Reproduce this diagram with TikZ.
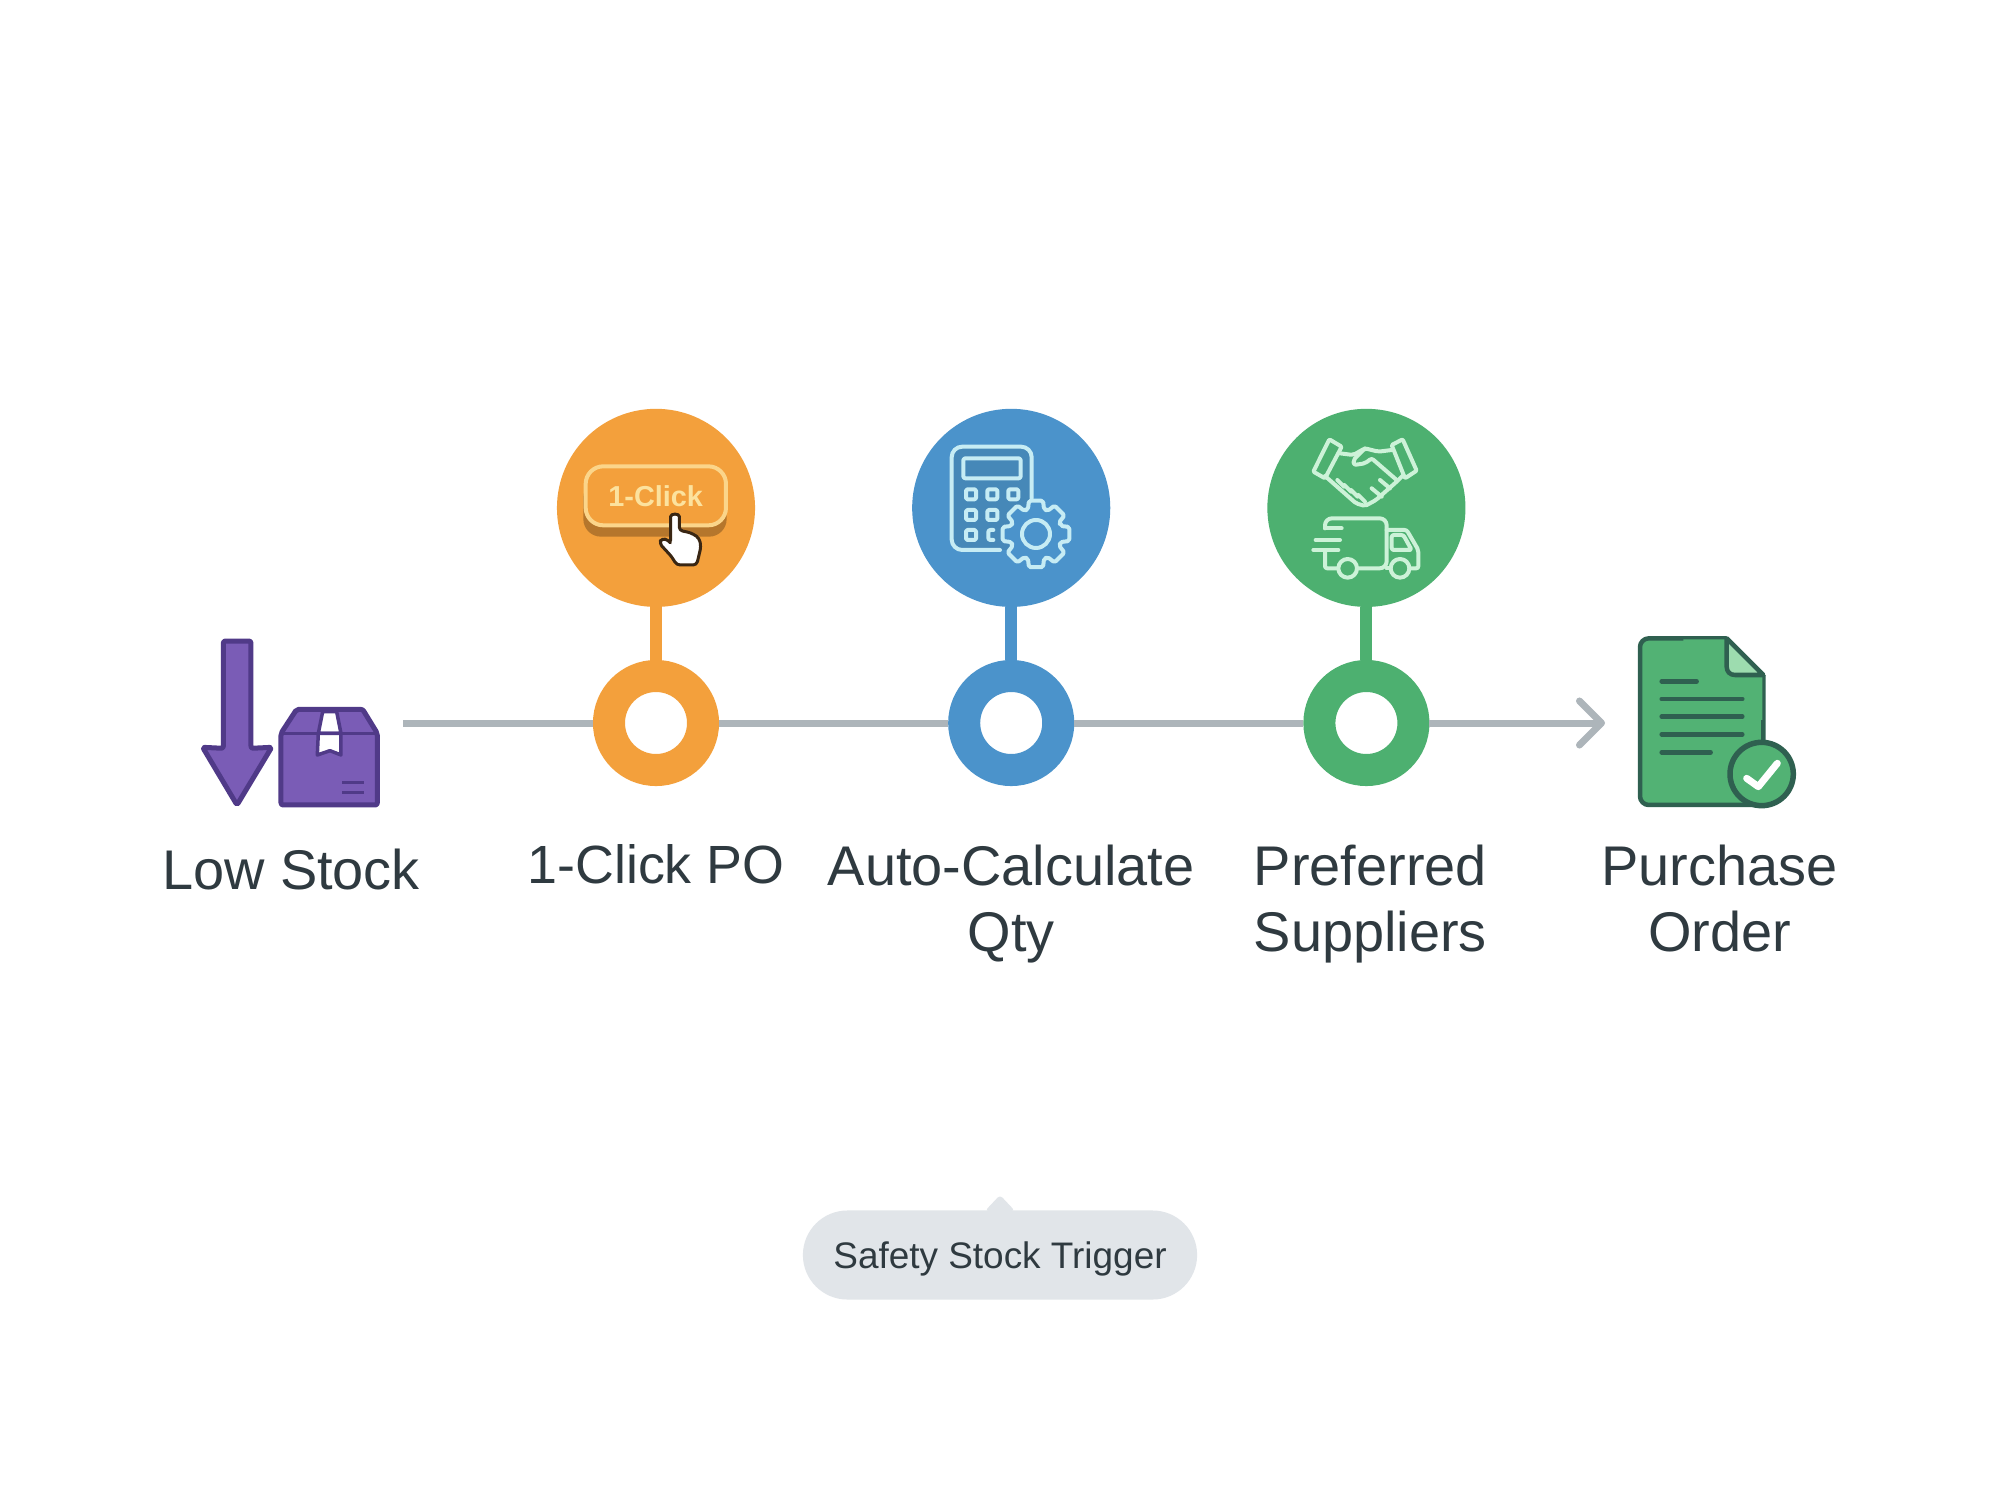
\documentclass[tikz,border=0pt]{standalone}
\usepackage{fontspec}
\setmainfont{Liberation Sans}
\usepackage{xcolor}
\usetikzlibrary{arrows.meta,positioning,shapes.misc}
\definecolor{clickorange}{HTML}{F3A03C}
\definecolor{clickshadow}{HTML}{B5762C}
\definecolor{clickrim}{HTML}{FBD58A}
\definecolor{clicktint}{HTML}{FCE29E}
\definecolor{calcblue}{HTML}{4B93CB}
\definecolor{calcdark}{HTML}{4688B8}
\definecolor{calcpale}{HTML}{C6ECF4}
\definecolor{supplygreen}{HTML}{4DB070}
\definecolor{supplypale}{HTML}{CDF2D8}
\definecolor{docgreen}{HTML}{52B274}
\definecolor{foldgreen}{HTML}{9DDCAF}
\definecolor{stockpurple}{HTML}{7A5CB6}
\definecolor{stockedge}{HTML}{503A88}
\definecolor{docedge}{HTML}{2F6050}
\definecolor{trackgrey}{HTML}{ADB5BA}
\definecolor{labeltext}{HTML}{2F3A40}
\definecolor{pillgrey}{HTML}{E1E5E9}
\begin{document}
\begin{tikzpicture}[
    x=.01cm,y=-.01cm,
    ring/.style={circle,draw=#1,fill=white,line width=.32cm,minimum size=.94cm,inner sep=0pt},
    badge/.style={circle,fill=#1,minimum size=1.98cm,inner sep=0pt,outer sep=0pt},
    stem/.style={line width=.12cm,draw=#1},
    track/.style={line width=.07cm,draw=trackgrey},
    steplabel/.style={align=center,text=labeltext,font=\fontsize{15.9}{18.8}\selectfont,inner sep=0pt},
    purpleicon/.style={fill=stockpurple,draw=stockedge,line width=.05cm,line join=round,rounded corners=.6pt},
    docicon/.style={draw=docedge,line width=.045cm,line join=round},
    docline/.style={draw=docedge,line width=.045cm,line cap=round},
    calcline/.style={draw=#1,line width=.04cm,rounded corners=.6pt,line join=round,line cap=round}
  ]
    \useasboundingbox[fill=white] (0,0) rectangle (2000,1500);

    \coordinate (trackstart) at (403,723);
    \coordinate (trackend) at (1605,723);
    \node[ring=clickorange] (ringclick) at (656,723) {};
    \node[ring=calcblue,right=2.29cm of ringclick] (ringcalc) {};
    \node[ring=supplygreen,right=2.29cm of ringcalc] (ringsupply) {};
    \node[badge=clickorange,above=.53cm of ringclick] (badgeclick) {};
    \node[badge=calcblue,above=.53cm of ringcalc] (badgecalc) {};
    \node[badge=supplygreen,above=.53cm of ringsupply] (badgesupply) {};
    \draw[stem=clickorange] (badgeclick) -- (ringclick);
    \draw[stem=calcblue] (badgecalc) -- (ringcalc);
    \draw[stem=supplygreen] (badgesupply) -- (ringsupply);
    \draw[track] (trackstart) -- (ringclick);
    \draw[track] (ringclick) -- (ringcalc);
    \draw[track] (ringcalc) -- (ringsupply);
    \draw[track,-{Straight Barb[length=2.2mm,width=4.4mm,round]}] (ringsupply) -- (trackend);

    \node[steplabel] (lowlabel) at (291,870) {Low Stock};
    \node[steplabel,below=.58cm of ringclick,font=\fontsize{15.3}{18.8}\selectfont] (clicklabel) {1-Click PO};
    \node[steplabel,below=.58cm of ringcalc] (calclabel) {Auto-Calculate\\Qty};
    \node[steplabel,below=.58cm of ringsupply,xshift=.04cm] (supplylabel) {Preferred\\Suppliers};
    \node[steplabel,right=1.13cm of supplylabel.north east,anchor=north west] (orderlabel) {Purchase\\Order};

    \fill[pillgrey,rounded corners=1pt] (985,1211) -- (1000,1195) -- (1015,1211) -- cycle;
    \node[rounded rectangle,fill=pillgrey,minimum width=3.94cm,minimum height=.89cm,inner sep=0pt,text depth=0pt,
      text=labeltext,font=\fontsize{10.5}{12}\selectfont] (triggerpill) at (1000,1255) {Safety Stock Trigger};

    % low stock
    \begin{scope}[shift={(180,620)},scale=.3333]
      \draw[purpleicon] (130,63) -- (213,63) -- (213,385) -- (275,382) -- (171,555) -- (68,382) -- (130,385) -- cycle;
      \draw[purpleicon] (303,340) -- (350,268) -- (548,268) -- (592,340) -- (592,555) -- (303,555) -- cycle;
      \draw[draw=stockedge,line width=.035cm] (303,340) -- (592,340);
      \draw[fill=white,draw=stockedge,line width=.035cm,line join=round] (428,275) -- (470,275) -- (483,340) -- (415,340) -- cycle;
      \draw[fill=white,draw=stockedge,line width=.035cm,line join=round] (415,340) -- (483,340) -- (483,405) -- (450,392) -- (412,405) -- cycle;
      \draw[draw=stockedge,line width=.025cm] (487,487) -- (553,487);
      \draw[draw=stockedge,line width=.025cm] (487,518) -- (553,518);
    \end{scope}

    % button and hand
    \begin{scope}[shift={(540,400)},scale=.3333]
      \fill[clickshadow,rounded corners=5pt] (130,240) rectangle (560,410);
      \draw[fill=clickorange,draw=clickrim,line width=.04cm,rounded corners=5pt] (137,199) rectangle (558,376);
      \node[text=clicktint,font=\bfseries\fontsize{8.2}{10}\selectfont,inner sep=0pt] (clicktext) at (347,290) {1-Click};
      \draw[fill=white,draw=black!70!brown,line width=.03cm,line join=round,rounded corners=1pt]
        (392,430) -- (392,360) .. controls (392,340) and (418,340) .. (418,360) -- (418,392)
        -- (440,395) -- (460,402) -- (478,415) -- (483,440) -- (470,495) -- (410,495)
        -- (395,470) -- (358,430) -- (365,415) -- (385,420) -- cycle;
    \end{scope}

    % calculator and gear
    \begin{scope}[shift={(900,400)},scale=.3333]
      \fill[calcdark,rounded corners=2pt] (155,140) rectangle (395,450);
      \draw[calcline=calcpale,rounded corners=3pt] (300,450) -- (155,450) -- (155,140) -- (395,140) -- (395,295);
      \draw[calcline=calcpale] (190,175) rectangle (362,235);
      \foreach \bx/\by in {213/283,277/283,340/283,213/345,277/345,213/405}
        \draw[calcline=calcpale,rounded corners=.4pt] (\bx-15,\by-15) rectangle (\bx+15,\by+15);
      \draw[calcline=calcpale] (280,390) -- (265,390) -- (265,420) -- (280,420);
      \begin{scope}[shift={(408,402)}]
        \draw[calcline=calcpale,fill=calcblue,rounded corners=.5pt]
          (-18:78)
          \foreach \a in {0,45,...,315} {
            -- (\a-12:102) -- (\a+12:102) -- (\a+18:78) -- (\a+27:78)
          } -- cycle;
        \draw[calcline=calcpale] (0,0) circle[radius=42];
      \end{scope}
    \end{scope}

    % handshake and truck
    \begin{scope}[shift={(1250,400)},scale=.3333]
      \draw[calcline=supplypale,rounded corners=.3pt] (238,118) -- (275,140) -- (225,235) -- (190,215) -- cycle;
      \draw[calcline=supplypale,rounded corners=.3pt] (458,118) -- (500,212) -- (465,235) -- (425,135) -- cycle;
      \draw[calcline=supplypale] (270,160) -- (310,165) -- (345,145) -- (385,155) -- (425,150);
      \draw[calcline=supplypale] (345,145) -- (310,180) -- (312,195) -- (345,190) -- (365,175) -- (440,240);
      \draw[calcline=supplypale] (460,225) -- (440,245) -- (378,300) -- (345,318) -- (318,310) -- (250,250) -- (225,228);
      \foreach \fx/\fy in {262/240,283/255,303/270,325/285}
        \draw[calcline=supplypale] (\fx,\fy) -- (\fx+20,\fy+20);
      \draw[calcline=supplypale] (365,265) -- (395,290);
      \draw[calcline=supplypale] (390,240) -- (420,265);
      \draw[calcline=supplypale,rounded corners=2pt] (225,385) -- (225,355) -- (410,355) -- (410,505) -- (325,505);
      \draw[calcline=supplypale] (225,385) -- (275,385);
      \draw[calcline=supplypale] (197,420) -- (270,420);
      \draw[calcline=supplypale] (190,450) -- (265,450);
      \draw[calcline=supplypale] (225,455) -- (225,505) -- (262,505);
      \draw[calcline=supplypale] (293,505) circle[radius=28];
      \draw[calcline=supplypale] (450,505) circle[radius=28];
      \draw[calcline=supplypale] (410,505) -- (420,505);
      \draw[calcline=supplypale] (410,390) -- (470,390) -- (505,450) -- (505,505) -- (480,505);
      \draw[calcline=supplypale] (425,405) -- (460,405) -- (485,450) -- (425,450) -- cycle;
    \end{scope}

    % purchase order document
    \begin{scope}[shift={(1550,620)},scale=.3333]
      \draw[docicon,fill=docgreen,rounded corners=2.5pt] (530,55) -- (270,55) -- (270,555) -- (640,555) -- (640,165);
      \fill[docgreen] (530,58) -- (637,165) -- (637,300) -- (400,300) -- (400,58) -- cycle;
      \draw[docicon,fill=foldgreen] (530,55) -- (640,165) -- (555,165) .. controls (540,165) and (530,155) .. (530,140) -- cycle;
      \draw[docline] (335,184) -- (440,184);
      \draw[docline] (335,237) -- (577,237);
      \draw[docline] (335,290) -- (577,290);
      \draw[docline] (335,343) -- (577,343);
      \draw[docline] (335,397) -- (482,397);
      \draw[docicon,fill=docgreen,line width=.055cm] (635,462) circle[radius=95];
      \draw[white,line width=.07cm,line cap=round,line join=round] (590,475) -- (625,500) -- (682,430);
    \end{scope}
  \end{tikzpicture}
\end{document}
